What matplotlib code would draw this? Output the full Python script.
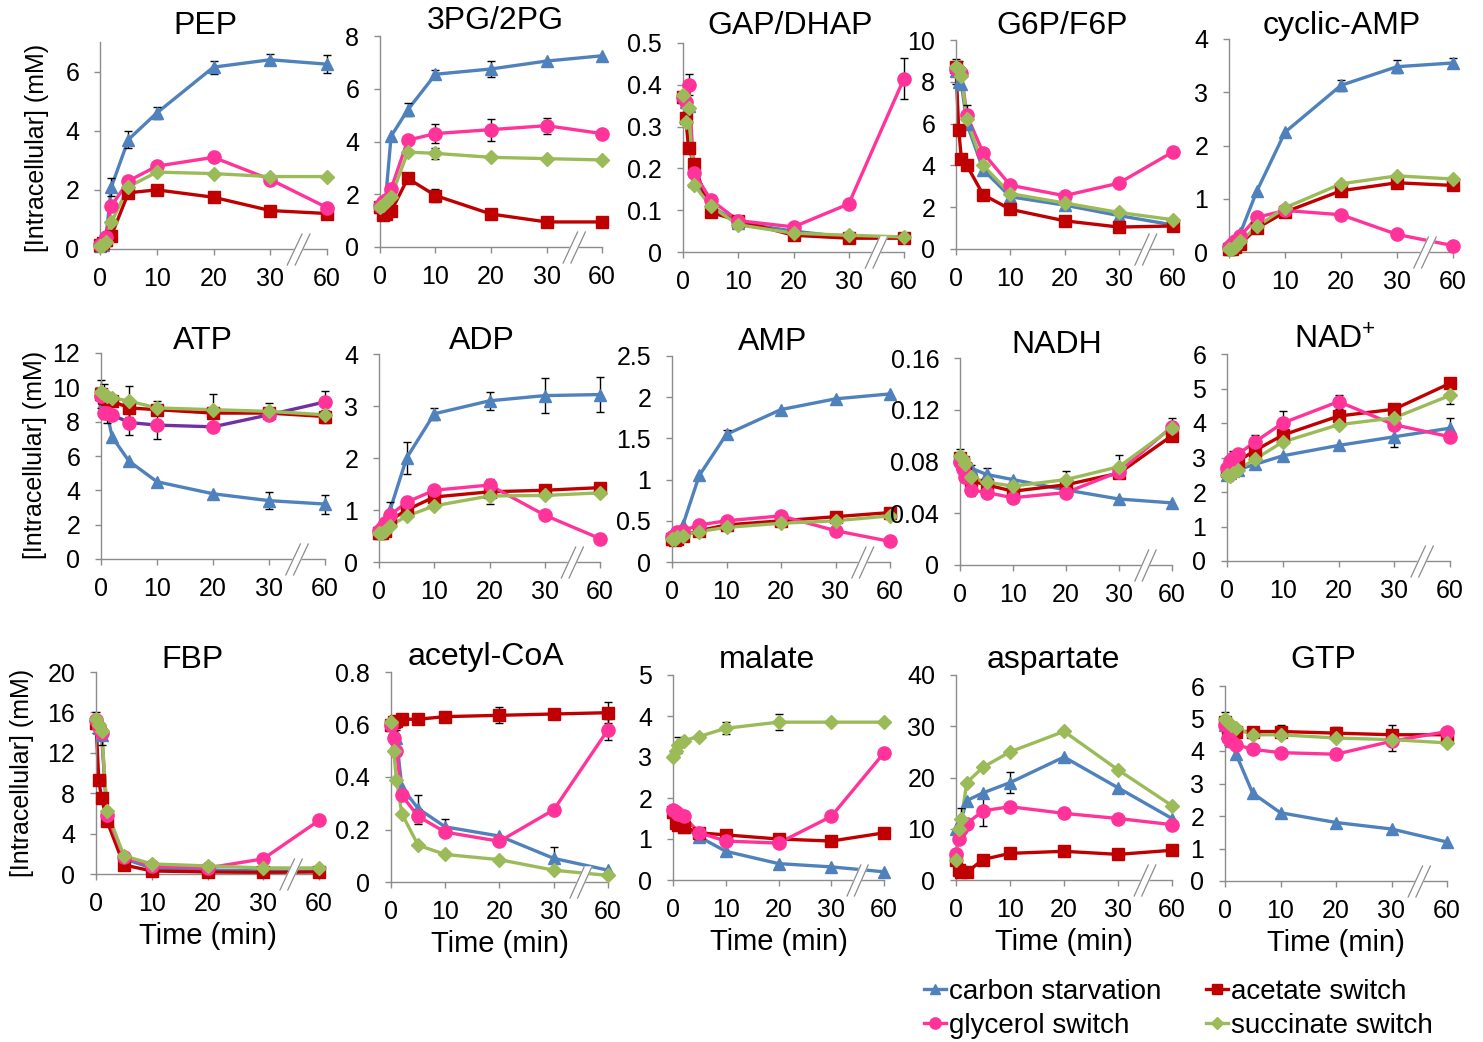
import numpy as np
import matplotlib
matplotlib.use('Agg')
import matplotlib.pyplot as plt
from matplotlib.lines import Line2D
import matplotlib.transforms as mtransforms
from matplotlib.ticker import FuncFormatter

plt.rcParams['font.family'] = ['Liberation Sans', 'DejaVu Sans']
plt.rcParams['mathtext.fontset'] = 'custom'
plt.rcParams['mathtext.rm'] = 'Liberation Sans'

# ---------------- data ----------------
times = [0, 0.5, 1, 2, 5, 10, 20, 30, 60]
xtick_vals = [0, 10, 20, 30, 60]
series_names = ['carbon starvation', 'acetate switch', 'glycerol switch', 'succinate switch']

pep_cs = [0.1, 0.15, 0.3, 2.1, 3.7, 4.6, 6.15, 6.4, 6.25]
pep_ac = [0.15, 0.2, 0.3, 0.45, 1.9, 2.0, 1.75, 1.3, 1.2]
pep_gl = [0.15, 0.2, 0.4, 1.45, 2.3, 2.8, 3.1, 2.35, 1.4]
pep_su = [0.1, 0.15, 0.25, 0.9, 2.1, 2.6, 2.55, 2.45, 2.45]

pg_cs = [1.5, 1.6, 1.8, 4.2, 5.2, 6.55, 6.75, 7.05, 7.25]
pg_ac = [1.5, 1.2, 1.25, 1.35, 2.6, 1.95, 1.25, 0.95, 0.95]
pg_gl = [1.55, 1.7, 1.8, 2.2, 4.05, 4.3, 4.45, 4.6, 4.3]
pg_su = [1.5, 1.6, 1.7, 1.9, 3.6, 3.55, 3.4, 3.35, 3.3]

gap_cs = [0.37, 0.36, 0.35, 0.17, 0.11, 0.07, 0.05, 0.035, 0.035]
gap_ac = [0.37, 0.32, 0.25, 0.21, 0.095, 0.075, 0.04, 0.033, 0.033]
gap_gl = [0.37, 0.36, 0.40, 0.19, 0.125, 0.075, 0.06, 0.115, 0.415]
gap_su = [0.375, 0.31, 0.345, 0.16, 0.11, 0.065, 0.045, 0.04, 0.036]

g6p_cs = [8.5, 8.0, 7.9, 6.0, 3.8, 2.5, 2.1, 1.6, 1.15]
g6p_ac = [8.7, 5.7, 4.3, 4.0, 2.6, 1.9, 1.35, 1.05, 1.1]
g6p_gl = [8.6, 8.5, 8.4, 6.4, 4.6, 3.05, 2.55, 3.15, 4.65]
g6p_su = [8.7, 8.6, 8.3, 6.2, 4.0, 2.65, 2.2, 1.75, 1.4]

camp_cs = [0.05, 0.1, 0.2, 0.35, 1.15, 2.25, 3.13, 3.48, 3.55]
camp_ac = [0.05, 0.05, 0.1, 0.15, 0.45, 0.75, 1.15, 1.3, 1.25]
camp_gl = [0.1, 0.15, 0.2, 0.3, 0.65, 0.78, 0.7, 0.33, 0.12]
camp_su = [0.05, 0.05, 0.1, 0.2, 0.48, 0.83, 1.28, 1.43, 1.37]

atp_cs = [9.6, 9.2, 8.6, 7.1, 5.7, 4.5, 3.8, 3.4, 3.2]
atp_ac = [9.6, 9.4, 9.3, 9.2, 8.8, 8.7, 8.5, 8.5, 8.3]
atp_gl = [9.5, 8.5, 8.5, 8.4, 7.95, 7.8, 7.7, 8.4, 9.15]
atp_su = [9.7, 9.6, 9.5, 9.4, 9.2, 8.8, 8.7, 8.6, 8.4]

adp_cs = [0.55, 0.6, 0.7, 1.0, 2.0, 2.85, 3.1, 3.2, 3.22]
adp_ac = [0.55, 0.55, 0.6, 0.8, 1.0, 1.25, 1.35, 1.38, 1.43]
adp_gl = [0.6, 0.65, 0.75, 0.9, 1.15, 1.38, 1.48, 0.9, 0.45]
adp_su = [0.55, 0.55, 0.6, 0.7, 0.88, 1.08, 1.27, 1.28, 1.33]

amp_cs = [0.28, 0.3, 0.35, 0.45, 1.05, 1.55, 1.85, 1.98, 2.04]
amp_ac = [0.28, 0.27, 0.28, 0.32, 0.38, 0.45, 0.5, 0.55, 0.6]
amp_gl = [0.3, 0.33, 0.37, 0.38, 0.45, 0.5, 0.56, 0.38, 0.25]
amp_su = [0.28, 0.28, 0.3, 0.32, 0.37, 0.42, 0.47, 0.5, 0.56]

nadh_cs = [0.082, 0.08, 0.078, 0.075, 0.07, 0.066, 0.058, 0.051, 0.048]
nadh_ac = [0.083, 0.08, 0.075, 0.065, 0.062, 0.057, 0.062, 0.071, 0.1]
nadh_gl = [0.08, 0.074, 0.068, 0.058, 0.056, 0.052, 0.056, 0.072, 0.107]
nadh_su = [0.084, 0.082, 0.078, 0.068, 0.064, 0.061, 0.066, 0.076, 0.106]

nad_cs = [2.5, 2.55, 2.6, 2.65, 2.8, 3.05, 3.35, 3.6, 3.85]
nad_ac = [2.6, 2.7, 2.8, 2.9, 3.2, 3.65, 4.2, 4.4, 5.15]
nad_gl = [2.7, 2.9, 3.0, 3.1, 3.45, 4.0, 4.62, 3.95, 3.6]
nad_su = [2.5, 2.45, 2.55, 2.65, 2.95, 3.45, 3.95, 4.15, 4.8]

fbp_cs = [15.0, 14.5, 13.8, 5.5, 1.5, 0.6, 0.4, 0.3, 0.3]
fbp_ac = [15.0, 9.3, 7.5, 5.2, 0.9, 0.3, 0.2, 0.15, 0.2]
fbp_gl = [15.2, 14.6, 14.0, 5.8, 1.7, 0.8, 0.6, 1.5, 5.3]
fbp_su = [15.3, 14.8, 14.2, 6.2, 1.8, 1.0, 0.8, 0.6, 0.6]

acoa_cs = [0.6, 0.58, 0.55, 0.36, 0.28, 0.21, 0.175, 0.09, 0.045]
acoa_ac = [0.6, 0.61, 0.615, 0.62, 0.62, 0.63, 0.635, 0.64, 0.645]
acoa_gl = [0.6, 0.55, 0.5, 0.33, 0.25, 0.19, 0.155, 0.275, 0.58]
acoa_su = [0.61, 0.5, 0.39, 0.26, 0.14, 0.105, 0.085, 0.045, 0.025]

mal_cs = [1.65, 1.5, 1.4, 1.3, 1.05, 0.7, 0.4, 0.32, 0.2]
mal_ac = [1.65, 1.4, 1.35, 1.3, 1.15, 1.1, 1.0, 0.95, 1.15]
mal_gl = [1.7, 1.65, 1.6, 1.55, 1.15, 0.95, 0.9, 1.55, 3.1]
mal_su = [3.0, 3.15, 3.3, 3.4, 3.5, 3.7, 3.85, 3.85, 3.85]

asp_cs = [10, 10, 12, 15.5, 17, 19, 24, 18, 12]
asp_ac = [4, 2, 1.5, 1.5, 4, 5.2, 5.6, 5.0, 5.8]
asp_gl = [5, 8, 10, 11, 13.5, 14.3, 13, 12, 10.8]
asp_su = [4, 10, 12, 19, 22, 25, 29, 21.5, 14.5]

gtp_cs = [4.8, 4.6, 4.3, 3.9, 2.7, 2.1, 1.8, 1.6, 1.2]
gtp_ac = [4.9, 4.7, 4.6, 4.6, 4.6, 4.6, 4.55, 4.5, 4.5]
gtp_gl = [4.8, 4.4, 4.3, 4.2, 4.05, 3.95, 3.9, 4.3, 4.6]
gtp_su = [5.0, 4.9, 4.8, 4.7, 4.5, 4.5, 4.4, 4.35, 4.25]

# error bars: (series index, time index, error)
pep_err = [(0, 3, 0.3), (0, 4, 0.28), (0, 5, 0.2), (0, 6, 0.22), (0, 7, 0.18), (0, 8, 0.3)]
pg_err = [(0, 4, 0.25), (0, 5, 0.15), (0, 6, 0.3), (2, 5, 0.35), (2, 6, 0.42), (2, 7, 0.3), (1, 5, 0.25), (3, 5, 0.2)]
gap_err = [(2, 2, 0.025), (2, 8, 0.05)]
g6p_err = [(0, 0, 0.6), (2, 1, 0.5), (2, 3, 0.5)]
camp_err = [(0, 6, 0.1), (0, 7, 0.12), (0, 8, 0.1)]
atp_err = [(0, 0, 0.8), (0, 1, 1.0), (2, 2, 0.6), (1, 4, 0.6), (2, 4, 0.7), (3, 4, 0.9), (2, 5, 0.8),
           (3, 5, 0.4), (3, 6, 0.9), (0, 7, 0.5), (3, 7, 0.5), (0, 8, 0.55), (2, 8, 0.65), (1, 8, 0.4)]
adp_err = [(0, 3, 0.15), (0, 4, 0.3), (0, 5, 0.12), (0, 6, 0.17), (0, 7, 0.33), (0, 8, 0.33), (2, 6, 0.12), (3, 6, 0.15)]
amp_err = [(0, 5, 0.05)]
nadh_err = [(0, 0, 0.008), (1, 3, 0.012), (0, 4, 0.005), (3, 6, 0.007), (3, 7, 0.009), (3, 8, 0.008)]
nad_err = [(2, 2, 0.2), (2, 4, 0.2), (2, 5, 0.35), (2, 6, 0.2), (0, 7, 0.3), (0, 8, 0.3), (3, 8, 0.25)]
fbp_err = [(0, 0, 1.0), (0, 2, 1.0)]
acoa_err = [(1, 3, 0.02), (2, 4, 0.03), (0, 4, 0.05), (0, 5, 0.03), (1, 6, 0.03), (0, 7, 0.045),
            (1, 8, 0.04), (2, 8, 0.04), (0, 2, 0.03)]
mal_err = [(3, 6, 0.2), (3, 5, 0.15), (3, 2, 0.2)]
asp_err = [(2, 4, 3), (0, 5, 2), (0, 2, 2), (1, 2, 1)]
gtp_err = [(0, 0, 0.4), (0, 1, 0.4), (2, 7, 0.3), (1, 5, 0.2), (1, 6, 0.2), (1, 7, 0.3)]

# ---------------- styles / layout ----------------
colors = ['#4F81BD', '#C00000', '#FF3399', '#9BBB59']
markers = ['^', 's', 'o', 'D']
msizes = [8.5, 8.5, 9.5, 7]
W, H = 1483, 1042

panels = [
    # title, series, err, ymax, ystep, (x0, x1, ytop, ybot), title center
    ('PEP', (pep_cs, pep_ac, pep_gl, pep_su), pep_err, 7, 2, (100, 327, 42, 249), (205, 26)),
    ('3PG/2PG', (pg_cs, pg_ac, pg_gl, pg_su), pg_err, 8, 2, (380, 602, 36, 247), (495, 21)),
    ('GAP/DHAP', (gap_cs, gap_ac, gap_gl, gap_su), gap_err, 0.5, 0.1, (683, 904, 43, 252), (790, 26)),
    ('G6P/F6P', (g6p_cs, g6p_ac, g6p_gl, g6p_su), g6p_err, 10, 2, (956, 1173, 40, 249), (1062, 26)),
    ('cyclic-AMP', (camp_cs, camp_ac, camp_gl, camp_su), camp_err, 4, 1, (1229, 1453, 39, 252), (1342, 26)),
    ('ATP', (atp_cs, atp_ac, atp_gl, atp_su), atp_err, 12, 2, (101, 325, 353, 559), (203, 341)),
    ('ADP', (adp_cs, adp_ac, adp_gl, adp_su), adp_err, 4, 1, (379, 600, 354, 562), (482, 341)),
    ('AMP', (amp_cs, amp_ac, amp_gl, amp_su), amp_err, 2.5, 0.5, (672, 890, 356, 562), (773, 342)),
    ('NADH', (nadh_cs, nadh_ac, nadh_gl, nadh_su), nadh_err, 0.16, 0.04, (960, 1172, 358, 565), (1057, 345)),
    ('NAD$^{\\mathregular{+}}$', (nad_cs, nad_ac, nad_gl, nad_su), nad_err, 6, 1, (1227, 1450, 354, 561), (1335, 341)),
    ('FBP', (fbp_cs, fbp_ac, fbp_gl, fbp_su), fbp_err, 20, 4, (96, 319, 672, 874), (193, 660)),
    ('acetyl-CoA', (acoa_cs, acoa_ac, acoa_gl, acoa_su), acoa_err, 0.8, 0.2, (391, 608, 672, 882), (486, 657)),
    ('malate', (mal_cs, mal_ac, mal_gl, mal_su), mal_err, 5, 1, (673, 884, 675, 880), (767, 660)),
    ('aspartate', (asp_cs, asp_ac, asp_gl, asp_su), asp_err, 40, 10, (956, 1172, 675, 880), (1053, 660)),
    ('GTP', (gtp_cs, gtp_ac, gtp_gl, gtp_su), gtp_err, 6, 1, (1225, 1447, 686, 881), (1323, 660)),
]


def fwd(x):
    x = np.asarray(x, dtype=float)
    return np.where(x <= 30, x, 30 + (x - 30) / 3.0)


def inv(y):
    y = np.asarray(y, dtype=float)
    return np.where(y <= 30, y, 30 + (y - 30) * 3.0)


fmt = FuncFormatter(lambda v, p: ('%g' % round(v, 4)))
GREY = '#8C8C8C'

fig = plt.figure(figsize=(W / 100, H / 100), dpi=100)

for i, (title, series, errs, ymax, ystep, box, tpos) in enumerate(panels):
    x0, x1, yt, yb = box
    ax = fig.add_axes([x0 / W, 1 - yb / H, (x1 - x0) / W, (yb - yt) / H])
    ax.set_xscale('function', functions=(fwd, inv))
    ax.set_xlim(0, 60)
    ax.set_ylim(0, ymax)
    ax.set_xticks(xtick_vals)
    ax.set_xticklabels([str(v) for v in xtick_vals])
    ax.set_yticks(np.arange(0, ymax + ystep / 2, ystep))
    ax.yaxis.set_major_formatter(fmt)
    ax.minorticks_off()
    for s in ['top', 'right']:
        ax.spines[s].set_visible(False)
    for s in ['left', 'bottom']:
        ax.spines[s].set_color(GREY)
        ax.spines[s].set_linewidth(1.0)
    ax.tick_params(axis='both', colors=GREY, labelcolor='black', labelsize=18,
                   length=4, width=1, direction='out')
    ax.tick_params(axis='x', pad=9)
    ax.tick_params(axis='y', pad=11)
    ax.patch.set_alpha(0)

    # error bars
    for (si, ti, e) in errs:
        ax.errorbar([times[ti]], [series[si][ti]], yerr=[e], fmt='none', ecolor='black',
                    elinewidth=1.0, capsize=3, capthick=1.0, zorder=2.5, clip_on=False)

    for si, ys in enumerate(series):
        lc = colors[si]
        if title == 'ATP' and si == 2:
            lc = '#7030A0'
        ax.plot(times, ys, color=lc, lw=2.4, zorder=2 + si * 0.1, clip_on=False)
        ax.plot(times, ys, ls='none', marker=markers[si], ms=msizes[si],
                mfc=colors[si], mec=colors[si], zorder=3 + si * 0.1, clip_on=False)

    # axis break marks
    trans = mtransforms.blended_transform_factory(ax.transAxes, ax.transAxes)
    h = yb - yt
    ylo, yhi = -16 / h, 15 / h
    xa = [0.825, 0.89]
    xb = [0.86, 0.925]
    ax.fill([xa[0], xa[1], xb[1], xb[0]], [ylo, yhi, yhi, ylo], color='white',
            transform=trans, clip_on=False, zorder=4)
    ax.plot(xa, [ylo, yhi], color=GREY, lw=0.9, transform=trans, clip_on=False, zorder=5)
    ax.plot(xb, [ylo, yhi], color=GREY, lw=0.9, transform=trans, clip_on=False, zorder=5)

    fig.text(tpos[0] / W, 1 - tpos[1] / H, title, ha='center', va='center', fontsize=23)

    if i >= 10:
        ax.set_xlabel('Time (min)', fontsize=21, labelpad=4)

# y labels
for (xp, yp) in [(37, 148), (35, 455), (22, 773)]:
    fig.text(xp / W, 1 - yp / H, '[Intracellular] (mM)', rotation=90, ha='center',
             va='center', fontsize=18)

# legend
handles = []
order = [0, 2, 1, 3]
for si in order:
    handles.append(Line2D([0], [0], color=colors[si], lw=2.4, marker=markers[si],
                          ms=msizes[si] * 0.85, mfc=colors[si], mec=colors[si]))
labels = [series_names[si] for si in order]
fig.legend(handles, labels, ncol=2, loc='center', bbox_to_anchor=(1178 / W, 1 - 1009 / H),
           frameon=False, fontsize=20, handlelength=0.8, handletextpad=0.1,
           columnspacing=1.6, labelspacing=0.3, borderpad=0)

fig.savefig('out.png', dpi=100)
